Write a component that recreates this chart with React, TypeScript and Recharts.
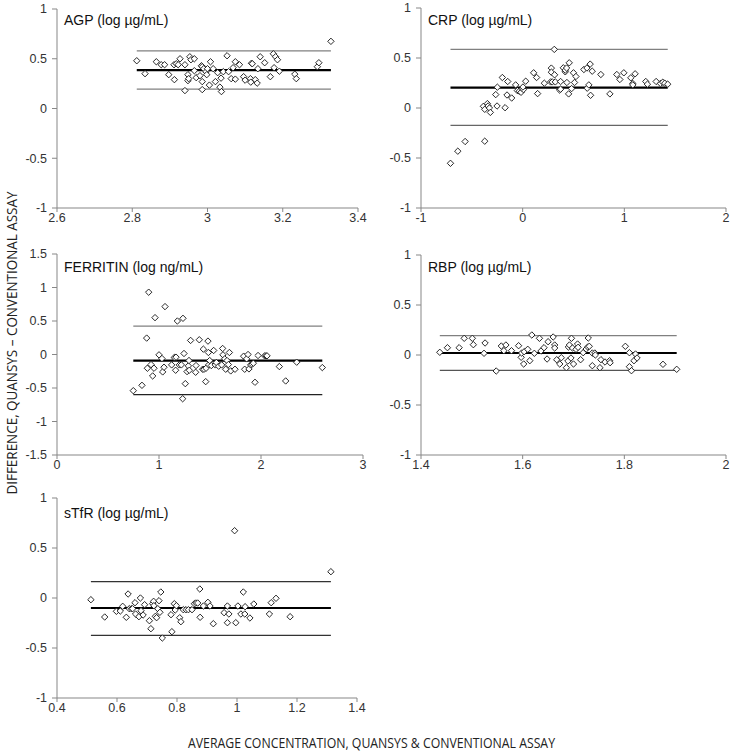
import React from 'react'
import {
    ScatterChart,
    Scatter,
    XAxis,
    YAxis,
    ReferenceLine
} from 'recharts'

// points: [average, difference]
const agpPoints: number[][] = [
    [2.812, 0.48], [2.834, 0.35], [2.864, 0.47], [2.877, 0.44], [2.886, 0.44], [2.897, 0.34],
    [2.911, 0.44], [2.912, 0.29], [2.917, 0.45], [2.922, 0.44], [2.927, 0.5], [2.94, 0.44],
    [2.94, 0.18], [2.948, 0.34], [2.948, 0.28], [2.95, 0.3], [2.953, 0.52], [2.956, 0.49],
    [2.965, 0.5], [2.965, 0.38], [2.97, 0.31], [2.98, 0.33], [2.984, 0.43], [2.986, 0.42],
    [2.986, 0.27], [2.986, 0.19], [2.99, 0.4], [2.996, 0.37], [2.998, 0.34], [3.0, 0.4],
    [3.008, 0.47], [3.005, 0.235], [3.015, 0.4], [3.021, 0.27], [3.027, 0.36], [3.033, 0.215],
    [3.036, 0.305], [3.037, 0.17], [3.042, 0.37], [3.052, 0.53], [3.056, 0.37], [3.063, 0.3],
    [3.068, 0.41], [3.074, 0.47], [3.074, 0.295], [3.085, 0.44], [3.096, 0.32], [3.1, 0.285],
    [3.114, 0.3], [3.115, 0.265], [3.117, 0.455], [3.119, 0.45], [3.127, 0.29], [3.132, 0.255],
    [3.134, 0.4], [3.14, 0.52], [3.152, 0.46], [3.167, 0.32], [3.175, 0.55], [3.177, 0.41],
    [3.181, 0.52], [3.186, 0.49], [3.191, 0.375], [3.232, 0.345], [3.236, 0.3], [3.292, 0.42],
    [3.296, 0.46], [3.328, 0.675]
]

const crpPoints: number[][] = [
    [-0.71, -0.553], [-0.638, -0.432], [-0.566, -0.335], [-0.373, -0.332], [-0.386, 0.017],
    [-0.373, -0.013], [-0.347, 0.044], [-0.34, 0.02], [-0.327, 0.0], [-0.318, -0.044],
    [-0.265, 0.134], [-0.252, 0.02], [-0.249, 0.208], [-0.2, 0.305], [-0.173, 0.003],
    [-0.154, 0.13], [-0.147, 0.265], [-0.108, 0.1], [-0.069, 0.231], [-0.052, 0.174],
    [-0.033, 0.168], [-0.016, 0.157], [-0.003, 0.194], [0.007, 0.184], [0.003, 0.21],
    [0.03, 0.268], [0.108, 0.352], [0.137, 0.305], [0.147, 0.144], [0.213, 0.248],
    [0.282, 0.399], [0.282, 0.358], [0.275, 0.261], [0.291, 0.261], [0.311, 0.586],
    [0.314, 0.332], [0.321, 0.261], [0.363, 0.18], [0.373, 0.265], [0.373, 0.188],
    [0.4, 0.402], [0.419, 0.362], [0.419, 0.379], [0.432, 0.4], [0.435, 0.255], [0.458, 0.452],
    [0.452, 0.141], [0.481, 0.194], [0.5, 0.352], [0.51, 0.255], [0.524, 0.315], [0.602, 0.385],
    [0.632, 0.4], [0.635, 0.198], [0.651, 0.231], [0.664, 0.439], [0.668, 0.127], [0.684, 0.368],
    [0.769, 0.335], [0.858, 0.141], [0.926, 0.335], [0.956, 0.285], [0.995, 0.352], [1.064, 0.302],
    [1.083, 0.245], [1.083, 0.231], [1.106, 0.342], [1.211, 0.265], [1.227, 0.238], [1.313, 0.265],
    [1.355, 0.245], [1.378, 0.258], [1.398, 0.248], [1.427, 0.238]
]

const ferritinPoints: number[][] = [
    [0.748, -0.54], [0.833, -0.46], [0.879, 0.245], [0.886, -0.205], [0.899, 0.93], [0.922, -0.15],
    [0.938, -0.32], [0.951, -0.205], [0.961, 0.55], [1.0, -0.005], [1.029, -0.06], [1.036, -0.26],
    [1.049, -0.19], [1.059, 0.715], [1.124, -0.155], [1.15, -0.045], [1.163, -0.235], [1.167, -0.04],
    [1.18, 0.5], [1.199, -0.155], [1.219, -0.155], [1.235, 0.54], [1.245, 0.015], [1.258, -0.435],
    [1.275, -0.255], [1.288, -0.17], [1.294, -0.09], [1.297, -0.235], [1.232, -0.66], [1.31, 0.21],
    [1.359, -0.265], [1.363, -0.165], [1.395, 0.22], [1.428, -0.22], [1.435, 0.08], [1.441, -0.22],
    [1.458, -0.405], [1.461, -0.205], [1.48, 0.2], [1.484, 0.03], [1.487, -0.155], [1.497, -0.09],
    [1.513, -0.165], [1.536, 0.06], [1.552, -0.155], [1.562, -0.12], [1.585, -0.175], [1.614, -0.155],
    [1.624, 0.09], [1.627, -0.005], [1.644, -0.065], [1.654, -0.22], [1.667, -0.09], [1.68, -0.15],
    [1.69, 0.03], [1.703, -0.245], [1.745, -0.22], [1.83, -0.025], [1.84, -0.22], [1.859, -0.065],
    [1.873, 0.0], [1.882, -0.215], [1.899, -0.155], [1.912, -0.145], [1.925, -0.13], [1.941, -0.415],
    [1.971, -0.015], [2.036, -0.02], [2.049, -0.02], [2.059, -0.02], [2.18, -0.18], [2.242, -0.395],
    [2.35, -0.115], [2.601, -0.195]
]

const rbpPoints: number[][] = [
    [1.437, 0.027], [1.452, 0.073], [1.475, 0.073], [1.485, 0.167], [1.501, 0.167], [1.503, 0.103],
    [1.524, 0.017], [1.526, 0.12], [1.548, -0.16], [1.558, 0.09], [1.563, 0.043], [1.567, 0.1],
    [1.578, 0.043], [1.592, 0.093], [1.597, -0.023], [1.598, 0.02], [1.602, -0.09], [1.603, 0.033],
    [1.61, 0.057], [1.614, -0.057], [1.618, 0.2], [1.623, 0.017], [1.633, 0.167], [1.636, 0.04],
    [1.642, 0.073], [1.648, -0.04], [1.65, 0.133], [1.66, 0.18], [1.663, 0.1], [1.663, 0.07],
    [1.667, -0.047], [1.673, -0.09], [1.676, -0.027], [1.686, -0.127], [1.689, -0.06], [1.69, 0.08],
    [1.692, 0.1], [1.695, -0.03], [1.696, 0.167], [1.698, 0.07], [1.7, -0.09], [1.705, 0.057],
    [1.708, 0.11], [1.709, 0.077], [1.714, -0.047], [1.719, 0.023], [1.725, 0.06], [1.728, 0.08],
    [1.729, 0.17], [1.731, 0.087], [1.737, 0.02], [1.737, -0.107], [1.742, 0.02], [1.743, 0.0],
    [1.752, -0.127], [1.754, -0.047], [1.762, -0.07], [1.771, -0.057], [1.772, -0.077], [1.802, 0.087],
    [1.81, 0.023], [1.81, -0.117], [1.814, -0.157], [1.819, -0.057], [1.822, 0.01], [1.825, -0.03],
    [1.876, -0.093], [1.903, -0.143]
]

const stfrPoints: number[][] = [
    [0.513, -0.017], [0.559, -0.19], [0.598, -0.133], [0.611, -0.13], [0.619, -0.083], [0.631, -0.193],
    [0.637, 0.04], [0.641, -0.107], [0.648, -0.107], [0.652, -0.107], [0.66, -0.047], [0.662, -0.16],
    [0.673, -0.187], [0.678, 0.0], [0.68, -0.127], [0.687, -0.17], [0.692, -0.067], [0.708, -0.227],
    [0.713, -0.307], [0.719, -0.057], [0.722, -0.033], [0.723, -0.077], [0.728, -0.183], [0.732, -0.197],
    [0.736, -0.107], [0.74, -0.027], [0.743, -0.143], [0.746, 0.06], [0.751, -0.4], [0.78, -0.167],
    [0.783, -0.337], [0.791, -0.057], [0.794, -0.12], [0.798, -0.077], [0.809, -0.197], [0.813, -0.237],
    [0.821, -0.117], [0.83, -0.117], [0.838, -0.117], [0.85, -0.117], [0.858, -0.057], [0.863, -0.05],
    [0.869, -0.05], [0.876, 0.09], [0.877, -0.193], [0.888, -0.08], [0.903, -0.043], [0.91, -0.08],
    [0.921, -0.257], [0.957, -0.147], [0.968, -0.08], [0.968, -0.247], [0.973, -0.16], [0.992, 0.673],
    [0.996, -0.247], [1.003, -0.08], [1.013, -0.16], [1.021, 0.06], [1.026, -0.16], [1.027, -0.087],
    [1.043, -0.2], [1.056, -0.06], [1.108, -0.16], [1.114, -0.047], [1.13, -0.003], [1.177, -0.187],
    [1.313, 0.263]
]

// bias lines: [lower limit, mean, upper limit]
const agpLines = [0.195, 0.385, 0.58]
const crpLines = [-0.174, 0.204, 0.586]
const ferritinLines = [-0.6, -0.09, 0.425]
const rbpLines = [-0.153, 0.02, 0.193]
const stfrLines = [-0.373, -0.1, 0.163]

const agpTicks = [2.6, 2.8, 3, 3.2, 3.4]
const crpTicks = [-1, 0, 1, 2]
const ferritinTicks = [0, 1, 2, 3]
const rbpTicks = [1.4, 1.6, 1.8, 2]
const stfrTicks = [0.4, 0.6, 0.8, 1, 1.2, 1.4]
const yTicksOne = [-1, -0.5, 0, 0.5, 1]
const yTicksFerritin = [-1.5, -1, -0.5, 0, 0.5, 1, 1.5]

const AXIS = '#878787'
const FONT = '"Liberation Sans", Arial, sans-serif'

const Diamond = (props: any) => {
    const { cx, cy } = props
    if (cx == null || cy == null) return null
    const r = 3.2
    return (
        <path
            d={`M${cx},${cy - r}L${cx + r},${cy}L${cx},${cy + r}L${cx - r},${cy}Z`}
            fill="#fff"
            stroke="#111"
            strokeWidth={0.9}
        />
    )
}

interface PanelProps {
    left: number
    top: number
    w: number
    h: number
    title: string
    titleDy: number
    xTicks: number[]
    yTicks: number[]
    points: number[][]
    lines: number[]
    limitColors: string[]
}

const Panel: React.FC<PanelProps> = ({
    left, top, w, h, title, titleDy, xTicks, yTicks, points, lines, limitColors
}) => {
    const data = points.map(([x, y]) => ({ x, y }))
    const xs = points.map(p => p[0])
    const x0 = Math.min(...xs)
    const x1 = Math.max(...xs)
    const seg = (y: number) => [{ x: x0, y }, { x: x1, y }]

    return (
        <>
            <div style={{ position: 'absolute', left: left - 40, top: top - 10 }}>
                <ScatterChart
                    width={w + 56}
                    height={h + 30}
                    margin={{ top: 10, right: 16, left: 0, bottom: 0 }}
                >
                    <XAxis
                        type="number"
                        dataKey="x"
                        domain={[xTicks[0], xTicks[xTicks.length - 1]]}
                        ticks={xTicks}
                        interval={0}
                        height={20}
                        tickSize={4}
                        tickMargin={1}
                        stroke={AXIS}
                        tick={{ fontSize: 12.5, fill: '#333', fontFamily: FONT }}
                    />
                    <YAxis
                        type="number"
                        dataKey="y"
                        domain={[yTicks[0], yTicks[yTicks.length - 1]]}
                        ticks={yTicks}
                        interval={0}
                        width={40}
                        tickSize={5}
                        tickMargin={5}
                        stroke={AXIS}
                        tick={{ fontSize: 12.5, fill: '#333', fontFamily: FONT }}
                    />
                    <ReferenceLine segment={seg(lines[2])} stroke={limitColors[1]} strokeWidth={1.3} />
                    <ReferenceLine segment={seg(lines[0])} stroke={limitColors[0]} strokeWidth={1.3} />
                    <ReferenceLine segment={seg(lines[1])} stroke="#000" strokeWidth={2.2} />
                    <Scatter data={data} shape={Diamond} isAnimationActive={false} />
                </ScatterChart>
            </div>
            <div
                style={{
                    position: 'absolute',
                    left: left + 7,
                    top: top + titleDy,
                    fontFamily: FONT,
                    fontSize: 14,
                    lineHeight: '14px',
                    color: '#111',
                    whiteSpace: 'nowrap'
                }}
            >
                {title}
            </div>
        </>
    )
}

export default function App() {
    return (
        <div
            style={{
                position: 'absolute',
                left: 0,
                top: 0,
                width: 733,
                height: 754,
                background: '#fff',
                overflow: 'hidden'
            }}
        >
            <Panel left={57} top={9} w={301} h={199} title="AGP (log µg/mL)" titleDy={4}
                xTicks={agpTicks} yTicks={yTicksOne} points={agpPoints} lines={agpLines}
                limitColors={['#808080', '#808080']} />
            <Panel left={421} top={8} w={305} h={200} title="CRP (log µg/mL)" titleDy={5}
                xTicks={crpTicks} yTicks={yTicksOne} points={crpPoints} lines={crpLines}
                limitColors={['#666', '#808080']} />
            <Panel left={57} top={254} w={306} h={201} title="FERRITIN (log ng/mL)" titleDy={6}
                xTicks={ferritinTicks} yTicks={yTicksFerritin} points={ferritinPoints} lines={ferritinLines}
                limitColors={['#222', '#808080']} />
            <Panel left={421} top={255} w={305} h={200} title="RBP (log µg/mL)" titleDy={5}
                xTicks={rbpTicks} yTicks={yTicksOne} points={rbpPoints} lines={rbpLines}
                limitColors={['#555', '#808080']} />
            <Panel left={57} top={498} w={300} h={200} title="sTfR (log µg/mL)" titleDy={8}
                xTicks={stfrTicks} yTicks={yTicksOne} points={stfrPoints} lines={stfrLines}
                limitColors={['#333', '#333']} />
            <svg
                width={733}
                height={754}
                style={{ position: 'absolute', left: 0, top: 0, pointerEvents: 'none' }}
            >
                <text
                    x={188}
                    y={748}
                    fontFamily='"Open Sans", sans-serif'
                    fontSize={15}
                    fill="#222"
                    textLength={367}
                    lengthAdjust="spacingAndGlyphs"
                >
                    AVERAGE CONCENTRATION, QUANSYS &amp; CONVENTIONAL ASSAY
                </text>
                <text
                    transform="translate(17,343) rotate(-90)"
                    textAnchor="middle"
                    fontFamily='"Open Sans", sans-serif'
                    fontSize={15}
                    fill="#222"
                    textLength={303}
                    lengthAdjust="spacingAndGlyphs"
                >
                    DIFFERENCE, QUANSYS – CONVENTIONAL ASSAY
                </text>
            </svg>
        </div>
    )
}
